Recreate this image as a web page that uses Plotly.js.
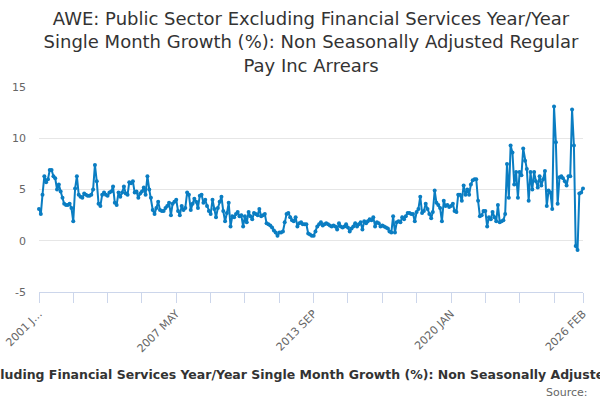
<!DOCTYPE html>
<html>
<head>
<meta charset="utf-8">
<script src="https://cdn.plot.ly/plotly-3.0.1.min.js"></script>
<style>
  html, body { margin: 0; padding: 0; background: #fff; }
  #chart { width: 600px; height: 400px; }
</style>
</head>
<body>
<div id="chart"></div>
<script>
// AWE public sector ex financial services, y/y single month growth (%), monthly from Jan 2001
const firstYear = 2001;

const growth2001to2008 = [
  3.1, 2.6, 4.5, 6.3, 5.7, 6.0, 6.9, 6.9, 6.3, 6.1, 5.0, 5.5,
  4.8, 4.2, 3.6, 3.5, 3.5, 3.6, 3.2, 1.9, 5.1, 6.3, 4.5, 4.3,
  4.2, 4.6, 4.5, 4.4, 4.4, 4.5, 5.0, 7.4, 5.8, 3.6, 3.4, 4.5,
  4.7, 4.5, 4.4, 4.7, 4.8, 5.3, 3.7, 3.5, 4.7, 4.3, 4.7, 5.3,
  4.6, 4.5, 5.7, 5.6, 5.8, 4.7, 4.8, 4.2, 4.6, 4.8, 5.2, 4.5,
  6.3, 5.0, 4.2, 3.0, 2.6, 3.2, 3.8, 3.0, 2.9, 2.9, 3.2, 3.4,
  3.7, 2.5, 3.6, 3.8, 4.0, 2.9, 2.5, 3.4, 3.0, 3.2, 4.7, 4.5,
  3.0, 3.6, 4.1, 3.8, 3.2, 4.4, 4.5, 3.7, 4.0, 3.4, 2.9, 2.6
];

const growth2009to2016 = [
  4.0, 3.1, 2.3, 3.2, 3.8, 4.3, 2.9, 1.9, 2.7, 3.7, 1.4, 2.4,
  2.3, 2.6, 2.8, 2.4, 2.5, 1.4, 2.4, 1.8, 2.8, 2.4, 2.1, 2.7,
  2.6, 2.5, 3.1, 2.4, 2.5, 2.6, 1.7, 1.6, 1.5, 1.3, 1.0, 0.8,
  0.5, 0.8, 0.8, 0.9, 1.8, 2.6, 2.7, 2.3, 2.0, 1.9, 2.3, 1.4,
  1.7, 1.8, 1.6, 1.6, 1.6, 0.7, 0.6, 0.5, 0.5, 0.9, 1.4, 1.6,
  1.8, 1.5, 1.6, 1.7, 1.6, 1.5, 1.4, 1.5, 1.4, 1.1, 1.7, 1.4,
  1.3, 1.4, 1.6, 1.3, 0.9, 1.2, 1.4, 1.7, 1.4, 1.6, 1.8, 1.1,
  1.9, 1.7, 1.9, 2.1, 2.0, 2.3, 1.4, 1.8, 1.7, 1.4, 1.5, 1.4
];

const growth2017to2026 = [
  1.3, 1.2, 0.9, 0.8, 2.4, 0.8, 1.8, 1.9, 1.8, 2.3, 2.1, 2.4,
  2.7, 2.7, 2.6, 2.6, 1.9, 2.8, 3.1, 4.3, 2.7, 2.9, 3.6, 3.1,
  2.6, 2.2, 2.8, 4.9, 3.7, 3.5, 3.2, 1.9, 3.9, 3.4, 3.5, 3.3,
  3.4, 3.6, 2.9, 2.8, 4.5, 4.5, 3.9, 5.4, 4.5, 5.0, 4.5, 5.5,
  5.9, 6.0, 6.0, 3.9, 2.4, 2.5, 2.9, 2.9, 1.4, 2.3, 2.1, 2.8,
  2.3, 1.9, 3.5, 1.8, 1.9, 2.0, 2.6, 7.5, 4.2, 9.3, 8.6, 5.5,
  6.7, 4.2, 6.7, 6.4, 9.0, 7.8, 7.0, 3.9, 6.7, 5.0, 6.7, 5.8,
  5.2, 6.3, 5.4, 6.0, 6.8, 3.4, 4.9, 4.7, 3.1, 13.1, 9.6, 3.6,
  6.2, 6.3, 6.1, 5.8, 5.4, 6.3, 6.3, 12.8, 9.3, -0.5, -0.9, 4.6,
  4.7, 5.1
];

const growth = [...growth2001to2008, ...growth2009to2016, ...growth2017to2026];

// month index of each labelled tick, and its text
const labelMonths = [0, 76, 152, 228, 301];
const labelTexts = ['2001 J\u2026', '2007 MAY', '2013 SEP', '2020 JAN', '2026 FEB'];
const tickStep = 19;

const yTicks = [-5, 0, 5, 10, 15];
const yTickText = ['-5', '0', '5', '10', '15'];

const chartTitle = 'AWE: Public Sector Excluding Financial Services Year/Year Single Month Growth (%): Non Seasonally Adjusted Regular Pay Inc Arrears';

function monthDate(i) {
  const y = firstYear + Math.floor(i / 12);
  const m = (i % 12) + 1;
  return y + '-' + String(m).padStart(2, '0') + '-01';
}

const dates = growth.map((v, i) => monthDate(i));
const last = growth.length - 1;

// minor ticks every 19 months, plus the last month
const tickIdx = [];
for (let i = 0; i <= last - 10; i += tickStep) tickIdx.push(i);
tickIdx.push(last);
const tickvals = tickIdx.map(monthDate);
const ticktext = tickIdx.map(i => {
  const k = labelMonths.indexOf(i);
  return k >= 0 ? labelTexts[k] : '';
});

const lineColor = '#0a7dc2';

const trace = {
  type: 'scatter',
  mode: 'lines+markers',
  x: dates,
  y: growth,
  line: { color: lineColor, width: 2 },
  marker: { color: lineColor, size: 4 },
  cliponaxis: false,
  hoverinfo: 'skip',
  showlegend: false
};

const layout = {
  width: 600,
  height: 400,
  margin: { l: 39, r: 17, t: 87, b: 108 },
  paper_bgcolor: '#ffffff',
  plot_bgcolor: '#ffffff',
  font: { family: 'DejaVu Sans, sans-serif', size: 11, color: '#666666' },
  title: {
    text: 'AWE: Public Sector Excluding Financial Services Year/Year<br>Single Month Growth (%): Non Seasonally Adjusted Regular<br>Pay Inc Arrears',
    font: { family: 'DejaVu Sans, sans-serif', size: 18, color: '#333333' },
    x: 0.5,
    xanchor: 'center',
    xref: 'paper',
    y: 0.9375,
    yref: 'container',
    yanchor: 'top'
  },
  xaxis: {
    type: 'date',
    range: [dates[0], dates[last]],
    tickmode: 'array',
    tickvals: tickvals,
    ticktext: ticktext,
    tickangle: -45,
    ticks: 'outside',
    ticklen: 10,
    tickcolor: '#ccd6eb',
    showline: true,
    linecolor: '#ccd6eb',
    linewidth: 1,
    showgrid: false,
    zeroline: false,
    tickfont: { size: 11, color: '#666666' },
    title: {
      text: chartTitle,
      font: { size: 12.5, color: '#333333', weight: 'bold' },
      standoff: 16
    }
  },
  yaxis: {
    range: [-5, 15],
    tickmode: 'array',
    tickvals: yTicks,
    ticktext: yTickText,
    showgrid: true,
    gridcolor: '#e6e6e6',
    zeroline: false,
    showline: false,
    ticklabelstandoff: 12,
    tickfont: { size: 11, color: '#666666' }
  },
  annotations: [{
    text: 'Source:',
    xref: 'paper',
    yref: 'paper',
    x: 1,
    y: 0,
    xshift: 7,
    yshift: -100,
    xanchor: 'right',
    yanchor: 'middle',
    showarrow: false,
    font: { size: 11, color: '#666666' }
  }]
};

Plotly.newPlot('chart', [trace], layout, { displayModeBar: false, staticPlot: true });
</script>
</body>
</html>
